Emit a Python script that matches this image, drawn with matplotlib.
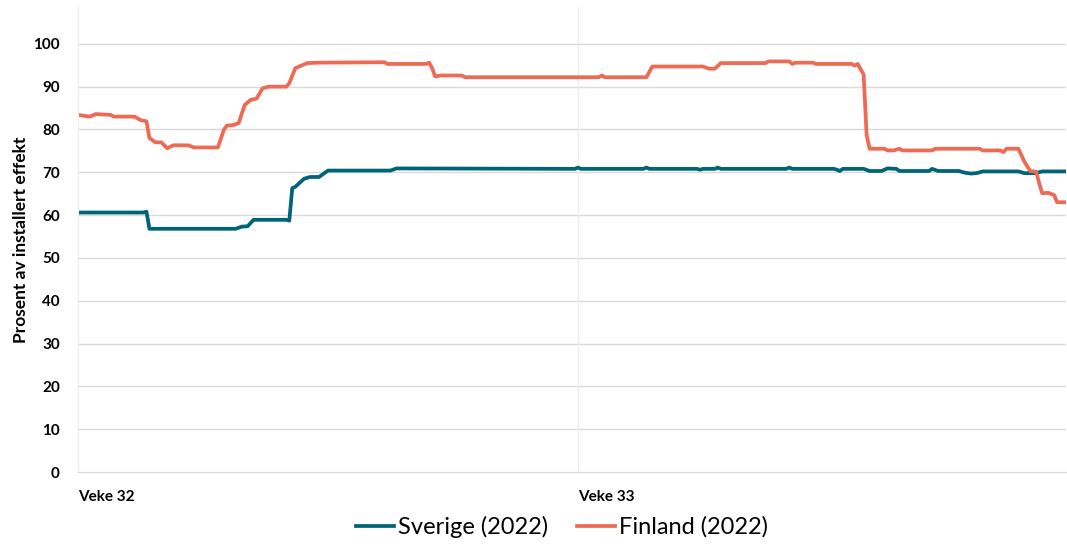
import matplotlib.pyplot as plt

plt.rcParams['font.family'] = ['Lato', 'DejaVu Sans']

# hours from start of week 32
sverige_t = [0, 22, 23, 24, 53, 55, 57, 59, 70, 71, 72, 73, 76, 78, 81, 84, 105, 107,
             167, 168, 169, 190, 191, 192, 208, 209, 210, 214, 215, 216, 238, 239, 240,
             254, 255, 256, 257, 264, 266, 270, 272, 275, 276, 286, 287, 289, 296, 298,
             300, 302, 304, 316, 318, 322, 324, 332]
sverige_v = [60.6, 60.6, 60.8, 56.8, 56.8, 57.3, 57.4, 58.9, 58.9, 58.7, 66.3, 66.6, 68.5,
             68.9, 68.9, 70.4, 70.4, 70.9, 70.8, 71.1, 70.8, 70.8, 71.1, 70.8, 70.8, 70.6,
             70.8, 70.8, 71.1, 70.8, 70.8, 71.1, 70.8, 70.8, 70.6, 70.3, 70.8, 70.8, 70.3,
             70.3, 70.9, 70.8, 70.3, 70.3, 70.8, 70.3, 70.3, 69.9, 69.7, 69.8, 70.2, 70.2,
             69.8, 69.8, 70.2, 70.2]

finland_t = [0, 4, 6, 11, 12, 19, 21, 23, 24, 26, 28, 30, 32, 37, 39, 47, 49, 50, 52, 54,
             56, 58, 60, 62, 64, 70, 71, 73, 75, 77, 81, 103, 104, 117, 118, 119, 120, 122,
             129, 130, 175, 176, 177, 191, 193, 210, 212, 214, 216, 231, 232, 239, 240, 241,
             247, 248, 260, 261, 262, 264, 265, 266, 271, 272, 274, 276, 277, 287, 288, 303,
             304, 310, 311, 312, 316, 318, 320, 322, 323, 324, 326, 328, 329, 332]
finland_v = [83.4, 83.0, 83.6, 83.4, 83.0, 83.0, 82.2, 81.9, 78.0, 77.0, 77.0, 75.6, 76.3,
             76.3, 75.8, 75.8, 79.9, 80.9, 81.0, 81.5, 85.7, 86.9, 87.2, 89.6, 90.0, 90.0,
             90.8, 94.3, 94.9, 95.5, 95.6, 95.7, 95.3, 95.3, 95.6, 94.3, 92.4, 92.6, 92.6,
             92.2, 92.2, 92.6, 92.2, 92.2, 94.7, 94.7, 94.2, 94.2, 95.5, 95.5, 95.9, 95.9,
             95.3, 95.6, 95.6, 95.3, 95.3, 94.9, 95.3, 92.8, 78.7, 75.5, 75.5, 75.1, 75.1,
             75.5, 75.1, 75.1, 75.5, 75.5, 75.1, 75.1, 74.7, 75.5, 75.5, 72.5, 70.3, 70.1,
             67.4, 65.1, 65.2, 64.7, 63.0, 63.0]

week_ticks = [0, 168]
week_labels = ['Veke 32', 'Veke 33']

fig = plt.figure(figsize=(10.67, 5.49), dpi=100)
ax = fig.add_axes([78 / 1067, 77 / 549, 988 / 1067, 465 / 549])

ax.plot(sverige_t, sverige_v, color='#006479', lw=2.7, label='Sverige (2022)', solid_joinstyle='round')
ax.plot(finland_t, finland_v, color='#EE6A55', lw=2.7, label='Finland (2022)', solid_joinstyle='round')

ax.set_xlim(0, 332)
ax.set_ylim(0, 108.6)
ax.set_yticks(range(0, 101, 10))
ax.set_xticks(week_ticks)
ax.set_xticklabels(week_labels, ha='left', fontweight='bold', fontsize=11)
for lab in ax.get_yticklabels():
    lab.set_fontweight('bold')
    lab.set_fontsize(11)
ax.tick_params(axis='y', length=0, pad=13)
ax.tick_params(axis='x', length=0, pad=13)

for y in range(10, 101, 10):
    ax.axhline(y, color='#d9d9d9', lw=1, zorder=0)
ax.axvline(168, color='#ececec', lw=1, zorder=0)

for s in ['top', 'right']:
    ax.spines[s].set_visible(False)
ax.spines['left'].set_color('#ececec')
ax.spines['bottom'].set_color('#d9d9d9')

ax.set_ylabel('Prosent av installert effekt', fontweight='bold', fontsize=12.5, labelpad=3)

fig.legend(loc='center', bbox_to_anchor=(562 / 1067, 1 - 527 / 549), ncol=2, frameon=False,
           fontsize=17, handlelength=1.6, handletextpad=0.2, columnspacing=1.2)

fig.savefig('out.png', dpi=100)
